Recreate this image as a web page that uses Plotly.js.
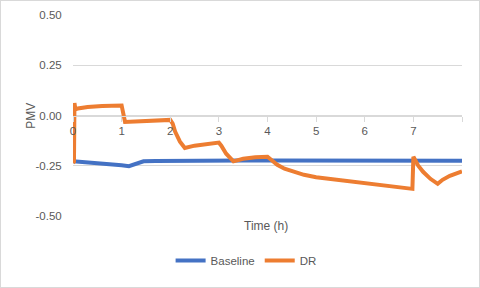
<!DOCTYPE html>
<html>
<head>
<meta charset="utf-8">
<script src="https://cdn.plot.ly/plotly-3.0.1.min.js"></script>
<style>
html,body{margin:0;padding:0;background:#fff;}
#chart{position:absolute;left:0;top:0;width:478px;height:286px;border:1px solid #d9d9d9;}
</style>
</head>
<body>
<div id="chart"></div>
<script>
// Baseline series
const baselineTime = [0, 0.25, 0.5, 0.75, 1.0, 1.15, 1.3, 1.45, 1.7, 2, 2.5, 3, 3.5, 4, 4.5, 5, 5.5, 6, 6.5, 7, 7.5, 8];
const baselinePMV  = [-0.228, -0.232, -0.238, -0.243, -0.248, -0.252, -0.238, -0.228, -0.226, -0.225, -0.224, -0.224, -0.224, -0.224, -0.224, -0.224, -0.224, -0.225, -0.225, -0.225, -0.225, -0.225];

// DR series
const drTime = [0, 0.02, 0.03, 0.05, 0.1, 0.3, 0.6, 0.95, 1.0, 1.07, 1.5, 2.0, 2.05, 2.1, 2.2, 2.3, 2.5, 2.75, 3.0, 3.05, 3.15, 3.3, 3.5, 3.75, 4.0, 4.1, 4.2, 4.35, 4.5, 4.75, 5.0, 5.5, 6.0, 6.5, 6.98, 7.0, 7.1, 7.2, 7.35, 7.5, 7.6, 7.75, 7.9, 8.0];
const drPMV  = [-0.235, -0.23, 0.062, 0.03, 0.035, 0.042, 0.047, 0.05, 0.05, -0.032, -0.028, -0.022, -0.04, -0.08, -0.13, -0.162, -0.15, -0.14, -0.135, -0.15, -0.19, -0.228, -0.215, -0.208, -0.205, -0.225, -0.245, -0.265, -0.278, -0.295, -0.307, -0.322, -0.337, -0.35, -0.365, -0.205, -0.25, -0.28, -0.315, -0.34, -0.32, -0.3, -0.285, -0.278];

// Axis tick labels
const xTickVals = [0, 1, 2, 3, 4, 5, 6, 7, 8];
const xTickText = ["0", "1", "2", "3", "4", "5", "6", "7", ""];
const yTickVals = [0.5, 0.25, 0, -0.25, -0.5];
const yTickText = ["0.50", "0.25", "0.00", "-0.25", "-0.50"];

const FONT = "Liberation Sans, Arial, sans-serif";
const GREY = "#595959";

const traces = [
  {x: baselineTime, y: baselinePMV, name: "Baseline", type: "scatter", mode: "lines",
   line: {color: "#4472C4", width: 4}},
  {x: drTime, y: drPMV, name: "DR", type: "scatter", mode: "lines",
   line: {color: "#ED7D31", width: 4}}
];

const layout = {
  width: 478, height: 286,
  margin: {l: 72, r: 17, t: 14, b: 65},
  paper_bgcolor: "#fff", plot_bgcolor: "#fff",
  font: {family: FONT, size: 11.5, color: GREY},
  showlegend: true,
  legend: {orientation: "h", x: 0.445, xanchor: "center", y: -0.222, yanchor: "middle",
           font: {family: FONT, size: 11.5, color: GREY}, itemwidth: 30},
  xaxis: {range: [0, 8], tickvals: xTickVals, ticktext: xTickText,
          anchor: "free", position: 0.5, showline: true, linecolor: "#d9d9d9", linewidth: 1,
          ticks: "outside", ticklen: 5, tickcolor: "#d9d9d9", showgrid: false, zeroline: false,
          tickfont: {family: FONT, size: 11.5, color: GREY}},
  yaxis: {range: [-0.5, 0.5], tickvals: yTickVals, ticktext: yTickText,
          showgrid: true, gridcolor: "#d9d9d9", gridwidth: 1, zeroline: false, showline: false,
          ticks: "outside", ticklen: 8, tickcolor: "rgba(0,0,0,0)",
          tickfont: {family: FONT, size: 11.5, color: GREY}},
  annotations: [
    {text: "Time (h)", xref: "paper", yref: "paper", x: 0.496, y: -0.048, xanchor: "center", yanchor: "middle",
     showarrow: false, font: {family: FONT, size: 12, color: GREY}},
    {text: "PMV", xref: "paper", yref: "paper", x: -0.11, y: 0.5, xanchor: "center", yanchor: "middle",
     textangle: -90, showarrow: false, font: {family: FONT, size: 12, color: GREY}}
  ]
};

Plotly.newPlot("chart", traces, layout, {displayModeBar: false, staticPlot: true});
</script>
</body>
</html>
